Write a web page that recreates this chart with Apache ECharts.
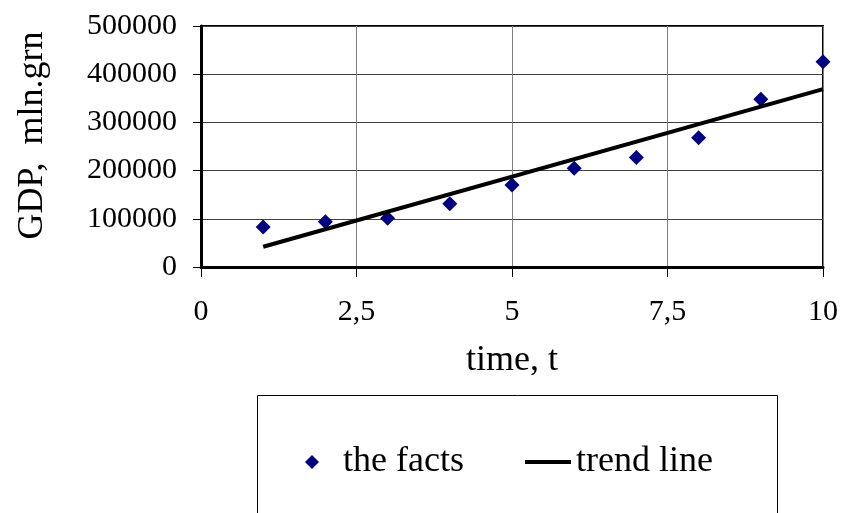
<!DOCTYPE html>
<html>
<head>
<meta charset="utf-8">
<script src="https://cdn.jsdelivr.net/npm/echarts@6/dist/echarts.min.js"></script>
<style>html,body{margin:0;padding:0;background:#fff}#c{width:841px;height:513px}</style>
</head>
<body>
<div id="c"></div>
<script>
var timeT = [1, 2, 3, 4, 5, 6, 7, 8, 9, 10];
var gdpFacts = [83000, 94000, 101000, 131000, 170000, 205000, 227000, 268000, 348000, 426000];
var trendT = [1, 10];
var trendGdp = [42000, 369000];
var xTicks = [0, 2.5, 5, 7.5, 10];
var yTicks = [0, 100000, 200000, 300000, 400000, 500000];

var font = 'Liberation Serif';
var legendText = { fontFamily: font, fontSize: 36, color: '#000' };
var chart = echarts.init(document.getElementById('c'));
chart.setOption({
  animation: false,
  backgroundColor: '#fff',
  textStyle: { fontFamily: font, color: '#000' },
  grid: { left: 201, right: 16, top: 26, bottom: 246, show: true, borderColor: '#000', borderWidth: 2, containLabel: false },
  graphic: [{
    type: 'rect', left: 255, top: 393, silent: true,
    shape: { width: 520, height: 140 },
    style: { fill: 'none', stroke: '#000', lineWidth: 1 }
  }],
  legend: [
    {
      data: [{ name: 'the facts', icon: 'diamond' }],
      left: 305, top: 444, padding: 0,
      itemWidth: 14, itemHeight: 14,
      textStyle: { fontFamily: font, fontSize: 36, color: '#000', padding: [0, 0, 0, 19] }
    },
    {
      data: [{ name: 'trend line', icon: 'rect', itemStyle: { color: '#000' } }],
      left: 525, top: 444, padding: 0,
      itemWidth: 46, itemHeight: 4,
      textStyle: legendText
    }
  ],
  xAxis: {
    type: 'value', min: xTicks[0], max: xTicks[xTicks.length - 1], interval: 2.5,
    name: 'time, t', nameLocation: 'middle', nameGap: 76,
    nameTextStyle: { fontFamily: font, fontSize: 36, color: '#000' },
    axisLine: { show: true, onZero: false, lineStyle: { color: '#000', width: 3 } },
    axisTick: { show: true, inside: false, length: 10, lineStyle: { color: '#000', width: 1 } },
    axisLabel: { fontFamily: font, fontSize: 30, color: '#000', margin: 30,
      formatter: function (v) { return String(v).replace('.', ','); } },
    splitLine: { show: true, lineStyle: { color: '#808080', width: 1 } }
  },
  yAxis: {
    type: 'value', min: yTicks[0], max: yTicks[yTicks.length - 1], interval: 100000,
    name: 'GDP,  mln.grn', nameLocation: 'middle', nameGap: 150,
    nameTextStyle: { fontFamily: font, fontSize: 36, color: '#000', padding: [0, 0, 0, 22] },
    axisLine: { show: true, lineStyle: { color: '#000', width: 3 } },
    axisTick: { show: true, inside: false, length: 8, lineStyle: { color: '#000', width: 1 } },
    axisLabel: { fontFamily: font, fontSize: 30, color: '#000', margin: 24,
      formatter: function (v) { return String(v); } },
    splitLine: { show: true, lineStyle: { color: '#404040', width: 1 } }
  },
  series: [
    {
      name: 'the facts', type: 'scatter', symbol: 'diamond', symbolSize: 15,
      itemStyle: { color: '#000080', opacity: 1 },
      data: timeT.map(function (t, i) { return [t, gdpFacts[i]]; }),
      z: 3
    },
    {
      name: 'trend line', type: 'line', symbol: 'none',
      lineStyle: { color: '#000', width: 4 },
      itemStyle: { color: '#000' },
      data: trendT.map(function (t, i) { return [t, trendGdp[i]]; }),
      z: 4
    }
  ]
});
</script>
</body>
</html>
